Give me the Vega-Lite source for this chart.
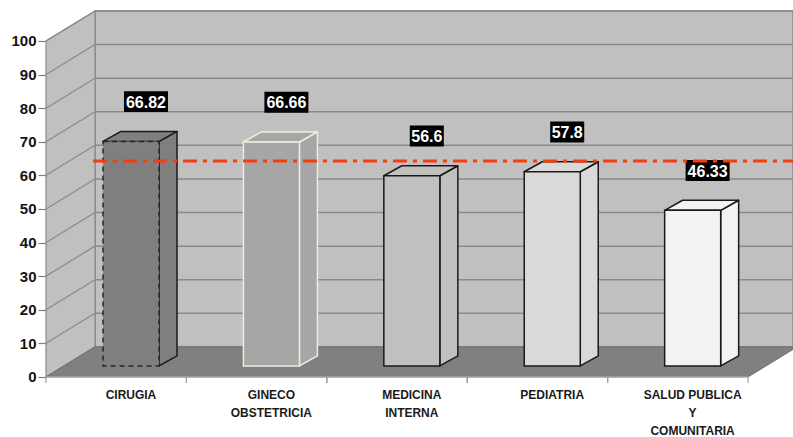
{
  "$schema": "https://vega.github.io/schema/vega-lite/v6.json",
  "width": 747,
  "height": 433.4,
  "autosize": {"type": "none"},
  "padding": {"left": 46, "top": 4, "right": 0, "bottom": 0},
  "background": "white",
  "config": {"view": {"stroke": null}, "font": "Liberation Sans"},
  "datasets": {
    "areas": [
      {"area": "CIRUGIA", "valor": 66.82},
      {"area": "GINECO\nOBSTETRICIA", "valor": 66.66},
      {"area": "MEDICINA\nINTERNA", "valor": 56.6},
      {"area": "PEDIATRIA", "valor": 57.8},
      {"area": "SALUD PUBLICA\nY\nCOMUNITARIA", "valor": 46.33}
    ],
    "escala": [
      {"t": 0}, {"t": 10}, {"t": 20}, {"t": 30}, {"t": 40}, {"t": 50},
      {"t": 60}, {"t": 70}, {"t": 80}, {"t": 90}, {"t": 100}
    ],
    "meta": [{"meta": 61}]
  },
  "encoding": {
    "x": {"field": "X", "type": "quantitative", "scale": {"domain": [0, 5.32], "nice": false, "zero": false}, "axis": null},
    "y": {
      "field": "Y", "type": "quantitative",
      "scale": {"domain": [-18, 111], "nice": false, "zero": false},
      "axis": {
        "values": [0, 10, 20, 30, 40, 50, 60, 70, 80, 90, 100],
        "title": null, "domain": false, "grid": false,
        "tickSize": 8, "tickColor": "#7f7f7f", "tickWidth": 1.2,
        "labelFontSize": 15, "labelFontWeight": "bold", "labelColor": "#141414",
        "labelPadding": 2, "labelFont": "Liberation Sans"
      }
    }
  },
  "layer": [
    {
      "description": "pared del fondo",
      "data": {"values": [{"pared": "fondo"}]},
      "transform": [
        {"calculate": "0.349", "as": "X"},
        {"calculate": "5.32", "as": "X2"},
        {"calculate": "8.93", "as": "Y"},
        {"calculate": "108.93", "as": "Y2"}
      ],
      "mark": {"type": "rect", "fill": "#c0c0c0", "stroke": "#8a8a8a", "strokeWidth": 1.5},
      "encoding": {"x2": {"field": "X2"}, "y2": {"field": "Y2"}}
    },
    {
      "description": "lineas de la pared del fondo",
      "data": {"name": "escala"},
      "transform": [
        {"calculate": "0.349", "as": "X"},
        {"calculate": "5.32", "as": "X2"},
        {"calculate": "datum.t + 8.93", "as": "Y"}
      ],
      "mark": {"type": "rule", "stroke": "#8a8a8a", "strokeWidth": 1.5},
      "encoding": {"x2": {"field": "X2"}}
    },
    {
      "description": "pared izquierda",
      "data": {"values": [{"pared": "izquierda"}]},
      "transform": [
        {"calculate": "[0, 0.349]", "as": "X"},
        {"calculate": "[0, 8.93]", "as": "Y"},
        {"calculate": "[100, 108.93]", "as": "Y2"},
        {"flatten": ["X", "Y", "Y2"]}
      ],
      "mark": {"type": "area", "fill": "#c0c0c0", "stroke": "#8a8a8a", "strokeWidth": 1.2},
      "encoding": {"y2": {"field": "Y2"}}
    },
    {
      "description": "lineas de la pared izquierda",
      "data": {"name": "escala"},
      "transform": [
        {"calculate": "0", "as": "X"},
        {"calculate": "0.349", "as": "X2"},
        {"calculate": "datum.t", "as": "Y"},
        {"calculate": "datum.t + 8.93", "as": "Y2"}
      ],
      "mark": {"type": "rule", "stroke": "#8a8a8a", "strokeWidth": 1.2},
      "encoding": {"x2": {"field": "X2"}, "y2": {"field": "Y2"}}
    },
    {
      "description": "piso",
      "data": {"values": [{"piso": 1}]},
      "transform": [
        {"calculate": "[0, 8.93]", "as": "Y"},
        {"calculate": "[0, 0.349]", "as": "X"},
        {"calculate": "[5, 5.349]", "as": "X2"},
        {"flatten": ["X", "X2", "Y"]}
      ],
      "mark": {"type": "area", "orient": "horizontal", "fill": "#808080", "stroke": "#6e6e6e", "strokeWidth": 1, "clip": true},
      "encoding": {"x2": {"field": "X2"}}
    },
    {
      "data": {"name": "areas"},
      "transform": [
        {"window": [{"op": "row_number", "as": "n"}]},
        {"calculate": "datum.n - 1", "as": "i"}
      ],
      "layer": [
        {
          "description": "eje de categorias",
          "transform": [
            {"calculate": "datum.i", "as": "X"},
            {"calculate": "datum.i + 1", "as": "X2"},
            {"calculate": "0", "as": "Y"}
          ],
          "mark": {"type": "rule", "stroke": "#a8a8a8", "strokeWidth": 1.2},
          "encoding": {"x2": {"field": "X2"}}
        },
        {
          "description": "marcas entre categorias",
          "transform": [
            {"calculate": "[datum.i, datum.i + 1]", "as": "X"},
            {"flatten": ["X"]},
            {"calculate": "0", "as": "Y"},
            {"calculate": "-1.8", "as": "Y2"}
          ],
          "mark": {"type": "rule", "stroke": "#a0a0a0", "strokeWidth": 1.2},
          "encoding": {"y2": {"field": "Y2"}}
        },
        {
          "description": "cara lateral de cada barra",
          "transform": [
            {"calculate": "[datum.i + 0.805, datum.i + 0.933]", "as": "X"},
            {"calculate": "[3.27, 6.25]", "as": "Y"},
            {"calculate": "[datum.valor + 3.27, datum.valor + 6.25]", "as": "Y2"},
            {"flatten": ["X", "Y", "Y2"]}
          ],
          "mark": {"type": "area", "strokeWidth": 1.5, "strokeJoin": "round"},
          "encoding": {
            "y2": {"field": "Y2"},
            "detail": {"field": "area"},
            "fill": {"field": "area", "type": "nominal", "legend": null,
              "scale": {"domain": ["CIRUGIA", "GINECO\nOBSTETRICIA", "MEDICINA\nINTERNA", "PEDIATRIA", "SALUD PUBLICA\nY\nCOMUNITARIA"],
                        "range": ["#7f7f7f", "#a6a6a6", "#c0c0c0", "#d9d9d9", "#f2f2f2"]}},
            "stroke": {"field": "area", "type": "nominal", "legend": null,
              "scale": {"domain": ["CIRUGIA", "GINECO\nOBSTETRICIA", "MEDICINA\nINTERNA", "PEDIATRIA", "SALUD PUBLICA\nY\nCOMUNITARIA"],
                        "range": ["#1a1a1a", "#eeeedd", "#1a1a1a", "#1a1a1a", "#1a1a1a"]}}
          }
        },
        {
          "description": "cara superior de cada barra",
          "transform": [
            {"calculate": "[datum.valor + 3.27, datum.valor + 6.25]", "as": "Y"},
            {"calculate": "[datum.i + 0.406, datum.i + 0.534]", "as": "X"},
            {"calculate": "[datum.i + 0.805, datum.i + 0.933]", "as": "X2"},
            {"flatten": ["X", "X2", "Y"]}
          ],
          "mark": {"type": "area", "orient": "horizontal", "strokeWidth": 1.5, "strokeJoin": "round"},
          "encoding": {
            "x2": {"field": "X2"},
            "detail": {"field": "area"},
            "fill": {"field": "area", "type": "nominal", "legend": null},
            "stroke": {"field": "area", "type": "nominal", "legend": null}
          }
        },
        {
          "description": "cara frontal de cada barra, sin la de CIRUGIA",
          "transform": [
            {"filter": "datum.area != 'CIRUGIA'"},
            {"calculate": "datum.i + 0.406", "as": "X"},
            {"calculate": "datum.i + 0.805", "as": "X2"},
            {"calculate": "3.27", "as": "Y"},
            {"calculate": "datum.valor + 3.27", "as": "Y2"}
          ],
          "mark": {"type": "rect", "strokeWidth": 1.5},
          "encoding": {
            "x2": {"field": "X2"},
            "y2": {"field": "Y2"},
            "fill": {"field": "area", "type": "nominal", "legend": null},
            "stroke": {"field": "area", "type": "nominal", "legend": null}
          }
        },
        {
          "description": "cara frontal de CIRUGIA, con borde punteado",
          "transform": [
            {"filter": "datum.area == 'CIRUGIA'"},
            {"calculate": "datum.i + 0.406", "as": "X"},
            {"calculate": "datum.i + 0.805", "as": "X2"},
            {"calculate": "3.27", "as": "Y"},
            {"calculate": "datum.valor + 3.27", "as": "Y2"}
          ],
          "mark": {"type": "rect", "fill": "#7f7f7f", "stroke": "#262626", "strokeWidth": 1.5, "strokeDash": [5, 4]},
          "encoding": {
            "x2": {"field": "X2"},
            "y2": {"field": "Y2"}
          }
        },
        {
          "description": "fondo negro de las etiquetas",
          "transform": [
            {"calculate": "datum.i + 0.712", "as": "cx"},
            {"calculate": "(length(toString(datum.valor)) * 10 - 6) / 140.41", "as": "w"},
            {"calculate": "datum.cx - datum.w / 2", "as": "X"},
            {"calculate": "datum.cx + datum.w / 2", "as": "X2"},
            {"calculate": "datum.valor + 15.1 - 3.1", "as": "Y"},
            {"calculate": "datum.valor + 15.1 + 3.1", "as": "Y2"}
          ],
          "mark": {"type": "rect", "fill": "#000000"},
          "encoding": {"x2": {"field": "X2"}, "y2": {"field": "Y2"}}
        },
        {
          "description": "valor de cada barra",
          "transform": [
            {"calculate": "datum.i + 0.712", "as": "X"},
            {"calculate": "datum.valor + 15.1", "as": "Y"}
          ],
          "mark": {"type": "text", "color": "#ffffff", "fontSize": 16, "fontWeight": "bold", "align": "center", "baseline": "middle", "dy": 1},
          "encoding": {"text": {"field": "valor", "type": "nominal"}}
        },
        {
          "description": "nombre de cada area",
          "transform": [
            {"calculate": "datum.i + 0.605", "as": "X"},
            {"calculate": "-3.8", "as": "Y"}
          ],
          "mark": {"type": "text", "color": "#1a1a1a", "fontSize": 12, "fontWeight": "bold", "align": "center", "baseline": "top", "lineBreak": "\n", "lineHeight": 18},
          "encoding": {"text": {"field": "area", "type": "nominal"}}
        }
      ]
    },
    {
      "description": "linea de referencia",
      "data": {"name": "meta"},
      "transform": [
        {"calculate": "0.335", "as": "X"},
        {"calculate": "5.32", "as": "X2"},
        {"calculate": "datum.meta + 3.27", "as": "Y"}
      ],
      "mark": {"type": "rule", "stroke": "#f53d12", "strokeWidth": 3, "strokeDash": [14, 6, 4, 6]},
      "encoding": {"x2": {"field": "X2"}}
    }
  ]
}
